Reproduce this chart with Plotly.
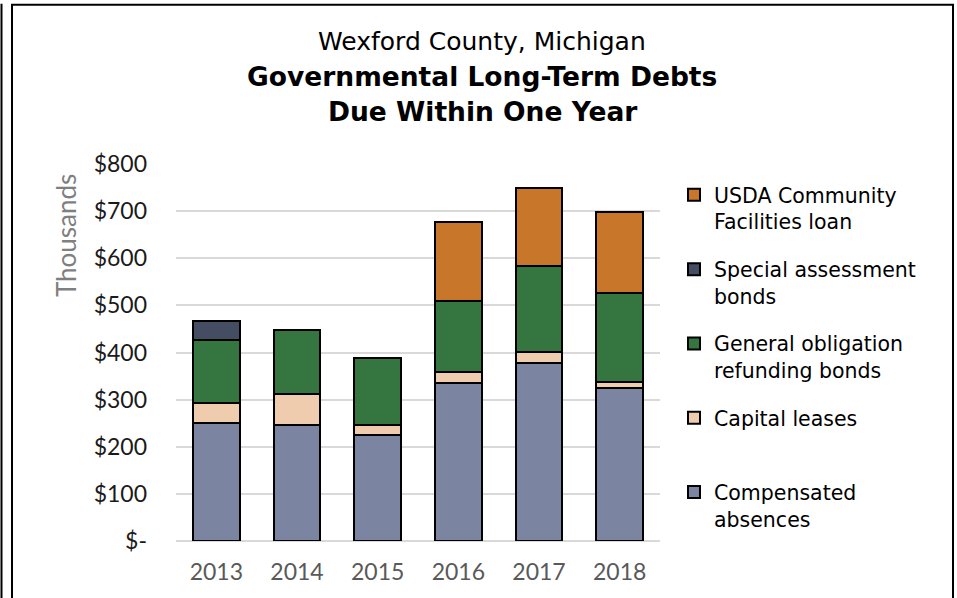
import plotly.graph_objects as go

years = ["2013", "2014", "2015", "2016", "2017", "2018"]
compensated = [250, 246, 226, 335, 377, 325]
capital_leases = [43, 65, 21, 24, 25, 13]
go_refunding = [134, 136, 141, 150, 181, 189]
special_assessment = [40, 0, 0, 0, 0, 0]
usda = [0, 0, 0, 167, 166, 171]

y_tickvals = [0, 100, 200, 300, 400, 500, 600, 700, 800]
y_ticktext = ["$-", "$100", "$200", "$300", "$400", "$500", "$600", "$700", "$800"]

series = [
    ("Compensated<br>absences", compensated, "#7B84A0", 5),
    ("Capital leases<br>\u00a0", capital_leases, "#F0CCAF", 4),
    ("General obligation<br>refunding bonds", go_refunding, "#357540", 3),
    ("Special assessment<br>bonds", special_assessment, "#454D62", 2),
    ("USDA Community<br>Facilities loan", usda, "#C8762A", 1),
]

W, H = 957, 598
L, R, T, B = 176, 660, 164, 540.7  # pixel coordinates of plot area

def px(x):
    return (x - L) / (R - L)

def py(y):
    return (B - y) / (B - T)

fig = go.Figure()
for i, (name, vals, color, rank) in enumerate(series):
    fig.add_trace(go.Bar(
        x=years, y=vals, name=name, legendgroup=f"g{i}", legendrank=rank,
        marker=dict(color=color, line=dict(color="black", width=2)),
    ))

txt_font = "DejaVu Sans, sans-serif"
tick_font = "Lato, Open Sans, sans-serif"

fig.update_layout(
    width=W, height=H,
    margin=dict(l=L, r=W - R, t=T, b=H - B, autoexpand=False),
    barmode="stack", bargap=0.42,
    plot_bgcolor="white", paper_bgcolor="white",
    showlegend=True,
    legend=dict(
        x=px(674), y=py(175), xanchor="left", yanchor="top",
        traceorder="grouped", tracegroupgap=18, valign="top",
        font=dict(family=txt_font, size=20.5, color="black"),
        bgcolor="rgba(0,0,0,0)",
    ),
    xaxis=dict(
        showgrid=False, showline=False, ticks="",
        tickfont=dict(family=tick_font, size=23, color="#595959"),
        ticklabelstandoff=15,
    ),
    yaxis=dict(
        range=[0, 800], tickvals=y_tickvals, ticktext=y_ticktext,
        showgrid=True, gridcolor="#D9D9D9", gridwidth=2,
        zeroline=True, zerolinecolor="#D9D9D9", zerolinewidth=2,
        showline=False, ticks="",
        tickfont=dict(family=tick_font, size=23, color="#1a1a1a"),
        ticklabelstandoff=28,
    ),
)

def ann(text, x, y, size, color="black", font=txt_font, angle=0):
    fig.add_annotation(text=text, x=px(x), y=py(y), xref="paper", yref="paper",
                       xanchor="center", yanchor="middle", textangle=angle,
                       showarrow=False, font=dict(family=font, size=size, color=color))

ann("Wexford County, Michigan", 482, 42, 25)
ann("<b>Governmental Long-Term Debts</b>", 482, 77, 26.5)
ann("<b>Due Within One Year</b>", 482, 112, 26.5)
ann("Thousands", 66, 236, 26, color="#7F7F7F", font=tick_font, angle=-90)

fig.add_shape(type="rect", xref="paper", yref="paper",
              x0=px(12), x1=px(953), y0=py(620), y1=py(5),
              line=dict(color="black", width=2), fillcolor="rgba(0,0,0,0)")
fig.add_shape(type="line", xref="paper", yref="paper",
              x0=px(1.5), x1=px(1.5), y0=py(620), y1=py(4),
              line=dict(color="black", width=2))

fig.write_html("out.html", config={"displayModeBar": False},
               post_script="document.body.style.margin='0';")
